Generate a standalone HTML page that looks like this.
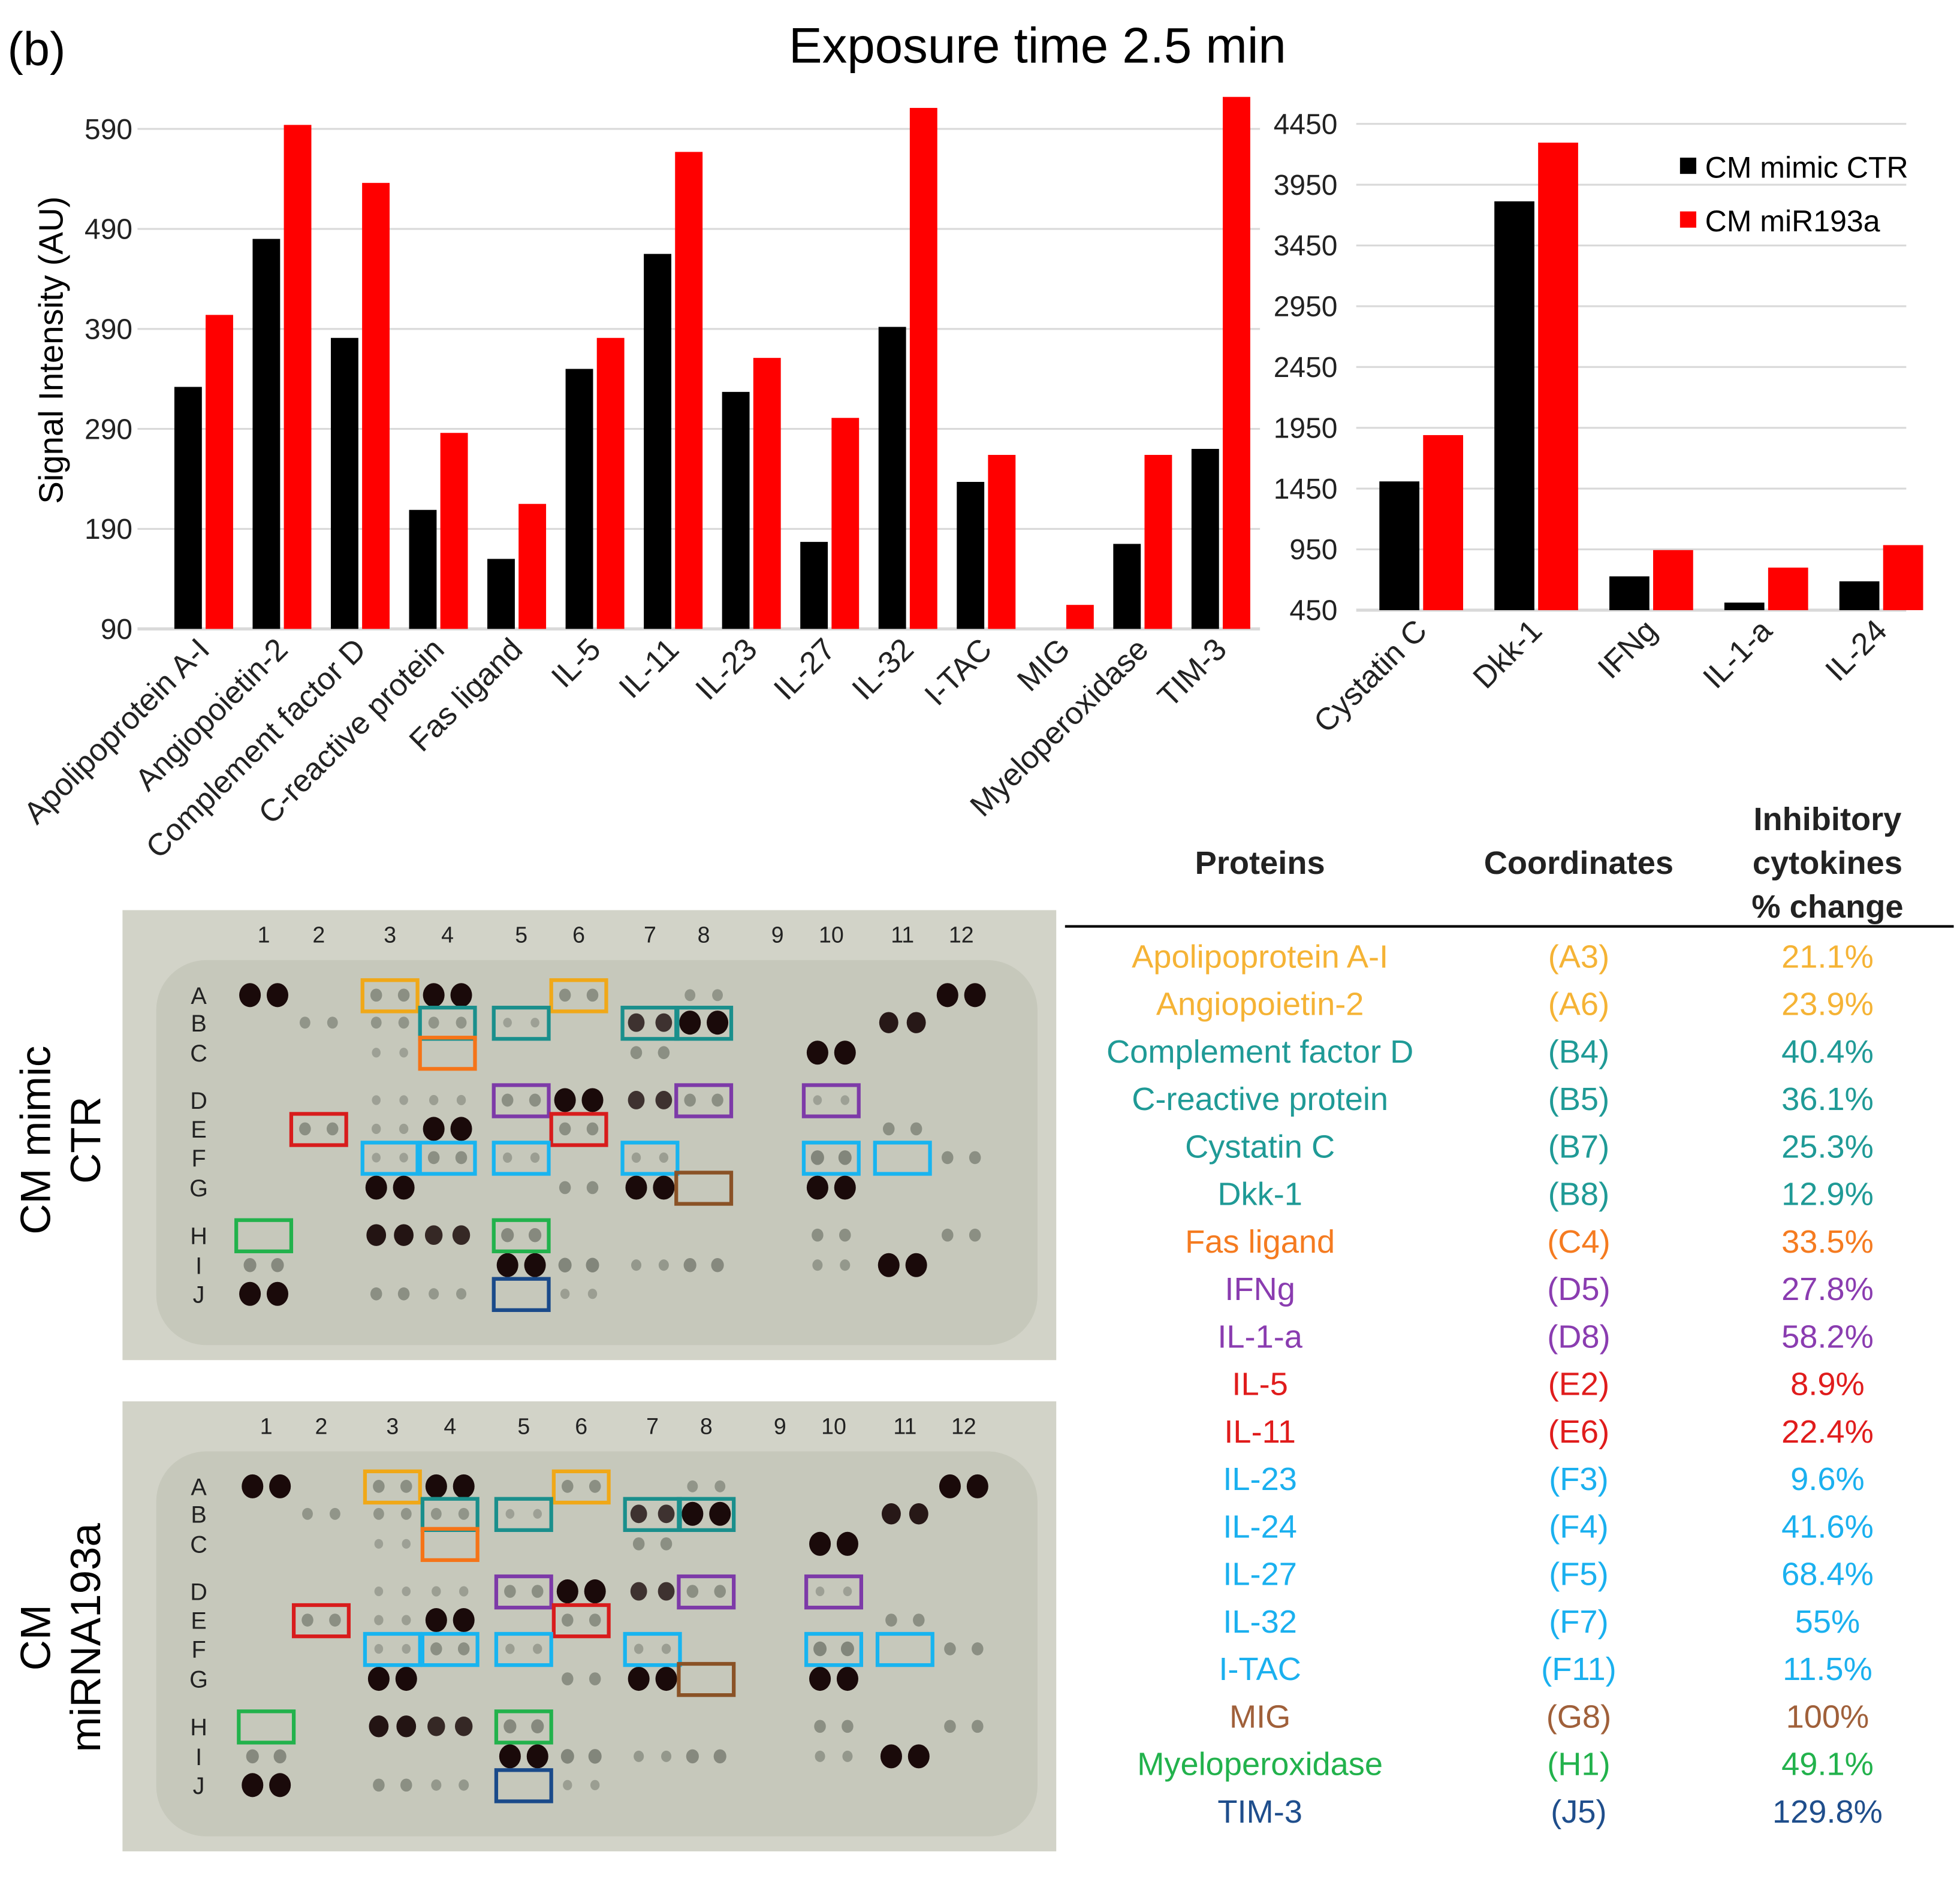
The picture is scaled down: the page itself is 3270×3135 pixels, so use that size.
<!DOCTYPE html>
<html><head><meta charset="utf-8">
<style>
html,body{margin:0;padding:0;background:#fff;}
svg{display:block;}
text{font-family:"Liberation Sans",Arial,sans-serif;}
</style></head>
<body>
<svg id="fig" width="3270" height="3135" viewBox="0 0 1568 1503" xmlns="http://www.w3.org/2000/svg">
<rect x="0" y="0" width="1568" height="1503" fill="#fff"/>
<text x="6" y="52" font-size="38">(b)</text>
<text x="830" y="50" font-size="40" text-anchor="middle">Exposure time 2.5 min</text>
<text transform="translate(50,280) rotate(-90)" font-size="27" text-anchor="middle">Signal Intensity (AU)</text>
<g id="left"></g>
<g id="right"></g>
<g>
 <rect x="1344" y="126" width="13" height="13" fill="#000"/>
 <text x="1364" y="142" font-size="24">CM mimic CTR</text>
 <rect x="1344" y="169" width="13" height="13" fill="#ff0000"/>
 <text x="1364" y="185" font-size="24">CM miR193a</text>
</g>
<g id="blots"></g>
<g>
 <text transform="translate(40,912) rotate(-90)" font-size="34" text-anchor="middle">CM mimic</text>
 <text transform="translate(80,912) rotate(-90)" font-size="34" text-anchor="middle">CTR</text>
</g>
<g>
 <text transform="translate(40,1310) rotate(-90)" font-size="34" text-anchor="middle">CM</text>
 <text transform="translate(80,1310) rotate(-90)" font-size="34" text-anchor="middle">miRNA193a</text>
</g>
<g id="table">
 <text x="1008" y="699" font-size="26" font-weight="bold" text-anchor="middle" fill="#222">Proteins</text>
 <text x="1263" y="699" font-size="26" font-weight="bold" text-anchor="middle" fill="#222">Coordinates</text>
 <g font-size="26" font-weight="bold" text-anchor="middle" fill="#222">
  <text x="1462" y="664">Inhibitory</text><text x="1462" y="699">cytokines</text><text x="1462" y="734">% change</text>
 </g>
 <line x1="852" y1="741" x2="1563" y2="741" stroke="#000" stroke-width="2"/>
</g>
</svg>
<script>
const NS="http://www.w3.org/2000/svg";
function mk(tag,attrs,parent){const e=document.createElementNS(NS,tag);for(const k in attrs)e.setAttribute(k,attrs[k]);parent.appendChild(e);return e;}

// ---- left chart data
const leftCategories=["Apolipoprotein A-I","Angiopoietin-2","Complement factor D","C-reactive protein","Fas ligand","IL-5","IL-11","IL-23","IL-27","IL-32","I-TAC","MIG","Myeloperoxidase","TIM-3"];
const leftCtr=[332,480,381,209,160,350,465,327,177,392,237,90,175,270];
const leftMir=[404,594,536,286,215,381,567,361,301,611,264,114,264,622];
const leftTicks=[90,190,290,390,490,590];
// ---- right chart data
const rightCategories=["Cystatin C","Dkk-1","IFNg","IL-1-a","IL-24"];
const rightCtr=[1509,3813,728,512,687];
const rightMir=[1890,4296,944,800,985];
const rightTicks=[450,950,1450,1950,2450,2950,3450,3950,4450];

function drawChart(g,cats,ctr,mir,ticks,o){
  const y=v=>o.y0-(v-ticks[0])/(ticks[ticks.length-1]-ticks[0])*(o.y0-o.y1);
  const bw=(o.x1-o.x0)/cats.length;
  ticks.forEach(t=>{
    const ln=mk("line",{x1:o.gx0,x2:o.gx1,y1:y(t),y2:y(t),stroke:"#d9d9d9","stroke-width":t===ticks[0]?2.5:1.5},g);
    
    
    const tx=mk("text",{x:o.tx,y:y(t)+8,"font-size":23,"text-anchor":"end",fill:"#222"},g);
    tx.textContent=t;
    
    
  });
  cats.forEach((c,i)=>{
    const cx=o.x0+bw*(i+0.5);
    const w=o.barW;
    if(ctr[i]>ticks[0]){
      const b=mk("rect",{x:cx-w-1.5,y:y(ctr[i]),width:w,height:o.y0-y(ctr[i]),fill:"#000"},g);
      
      
    }
    const r=mk("rect",{x:cx+1.5,y:y(mir[i]),width:w,height:o.y0-y(mir[i]),fill:"#ff0000"},g);
    
    
    const t=mk("text",{transform:`translate(${cx+6},${o.y0+18}) rotate(-45)`,"font-size":25,"text-anchor":"end",fill:"#222"},g);
    t.textContent=c;
    
    
  });
}
drawChart(document.getElementById("left"),leftCategories,leftCtr,leftMir,leftTicks,{x0:131.7,x1:1008,y0:503,y1:103,gx0:110,gx1:1008,tx:106,barW:22});
drawChart(document.getElementById("right"),rightCategories,rightCtr,rightMir,rightTicks,{x0:1091,x1:1551,y0:488,y1:99,gx0:1085,gx1:1525,tx:1070,barW:32});

// ---- blots
const colX=[211,255,312,358,417,463,520,563,622,665,722,769];
const rowY=[796,818,842,880,903,926,950,988,1012,1035];
const rowLetters=["A","B","C","D","E","F","G","H","I","J"];
const spots=[[1,"A",3],[3,"A",1],[4,"A",3],[6,"A",1],[8,"A",.8],[12,"A",3],
[2,"B",.8],[3,"B",.8],[4,"B",.8],[5,"B",.4],[7,"B",2],[8,"B",3],[11,"B",2.5],
[7,"C",1],[10,"C",3],[3,"C",.4],
[3,"D",.4],[4,"D",.5],[5,"D",1],[6,"D",3],[7,"D",2],[8,"D",1],[10,"D",.4],
[2,"E",1],[3,"E",.5],[4,"E",3],[6,"E",1],[11,"E",1],
[4,"F",1],[3,"F",.4],[5,"F",.5],[7,"F",.5],[10,"F",1.3],[12,"F",1],
[3,"G",3],[6,"G",1],[7,"G",3],[10,"G",3],
[3,"H",2.6],[4,"H",2.2],[5,"H",1.2],[10,"H",1],[12,"H",1],
[1,"I",1.2],[5,"I",3],[6,"I",1.3],[7,"I",.7],[8,"I",1.2],[10,"I",.7],[11,"I",3],
[1,"J",3],[3,"J",1],[4,"J",.7],[6,"J",.5]];
const boxes=[[3,"A","#f0a818"],[6,"A","#f0a818"],[4,"B","#1a8f8c"],[5,"B","#1a8f8c"],[7,"B","#1a8f8c"],[8,"B","#1a8f8c"],
[4,"C","#f57418"],[5,"D","#7d3aa8"],[8,"D","#7d3aa8"],[10,"D","#7d3aa8"],[2,"E","#d81c1c"],[6,"E","#d81c1c"],
[3,"F","#18b4f0"],[4,"F","#18b4f0"],[5,"F","#18b4f0"],[7,"F","#18b4f0"],[10,"F","#18b4f0"],[11,"F","#18b4f0"],
[8,"G","#8a5226"],[1,"H","#22b24c"],[5,"H","#22b24c"],[5,"J","#1a4a8a"]];
const blotG=document.getElementById("blots");
[[0,0,"ctr"],[393,2,"mir"]].forEach(([dy,dx,nm])=>{
  const p=mk("g",{},blotG);
  
  
  mk("rect",{x:98,y:728+dy,width:747,height:360,fill:"#d2d3c8"},p);
  mk("rect",{x:125,y:768+dy,width:705,height:308,rx:40,fill:"#c6c8bb"},p);
  colX.forEach((x,i)=>{const t=mk("text",{x:x+dx,y:754+dy,"font-size":18,"text-anchor":"middle",fill:"#222"},p);t.textContent=i+1;});
  rowLetters.forEach((l,i)=>{const t=mk("text",{x:159,y:rowY[i]+dy+7,"font-size":19,"text-anchor":"middle",fill:"#222"},p);t.textContent=l;});
  spots.forEach(([c,r,d])=>{
    const cx=colX[c-1]+dx, cy=rowY[rowLetters.indexOf(r)]+dy;
    const rr=3+d*2.2, op=Math.min(1,0.25+d*0.27);
    [-11,11].forEach(o=>mk("ellipse",{cx:cx+o,cy:cy,rx:rr*0.9,ry:rr,fill:d>=2?"#1a0a0a":"#555a50","fill-opacity":op},p));
  });
  boxes.forEach(([c,r,col])=>{
    const cx=colX[c-1]+dx, cy=rowY[rowLetters.indexOf(r)]+dy;
    mk("rect",{x:cx-22,y:cy-12,width:44,height:25,fill:"none",stroke:col,"stroke-width":3},p);
  });
});

// ---- table
const tableNames=["Apolipoprotein  A-I","Angiopoietin-2","Complement  factor D","C-reactive protein","Cystatin C","Dkk-1","Fas ligand","IFNg","IL-1-a","IL-5","IL-11","IL-23","IL-24","IL-27","IL-32","I-TAC","MIG","Myeloperoxidase","TIM-3"];
const tableCoords=["(A3)","(A6)","(B4)","(B5)","(B7)","(B8)","(C4)","(D5)","(D8)","(E2)","(E6)","(F3)","(F4)","(F5)","(F7)","(F11)","(G8)","(H1)","(J5)"];
const tableChange=["21.1%","23.9%","40.4%","36.1%","25.3%","12.9%","33.5%","27.8%","58.2%","8.9%","22.4%","9.6%","41.6%","68.4%","55%","11.5%","100%","49.1%","129.8%"];
const tableColors=["#f5b335","#f5b335","#1f9a96","#1f9a96","#1f9a96","#1f9a96","#f57b20","#8a3cb0","#8a3cb0","#e01c1c","#e01c1c","#1ab0ef","#1ab0ef","#1ab0ef","#1ab0ef","#1ab0ef","#a0603a","#22b24c","#1f4e8c"];
const tg=document.getElementById("table");
tableNames.forEach((n,i)=>{
  const y=774+i*38;
  const row=mk("g",{fill:tableColors[i],"font-size":26,"text-anchor":"middle"},tg);
  
  
  mk("text",{x:1008,y:y,"xml:space":"preserve"},row).textContent=n;
  mk("text",{x:1263,y:y},row).textContent=tableCoords[i];
  mk("text",{x:1462,y:y},row).textContent=tableChange[i];
});
</script>
</body></html>
